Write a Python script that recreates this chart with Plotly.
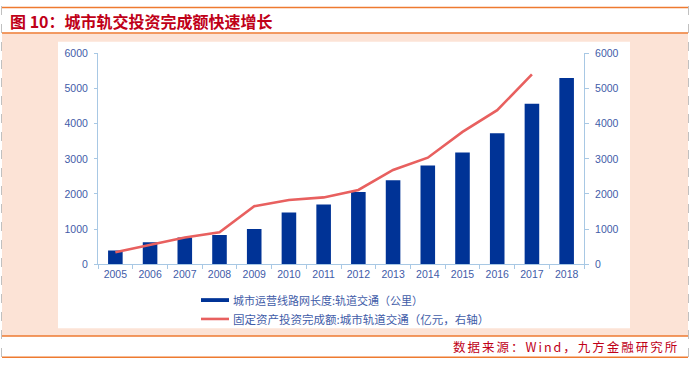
import plotly.graph_objects as go

W, H = 691, 368

years = ["2005", "2006", "2007", "2008", "2009", "2010", "2011", "2012",
         "2013", "2014", "2015", "2016", "2017", "2018"]
rail_length_km = [395, 625, 763, 836, 1002, 1470, 1700, 2059,
                  2390, 2812, 3180, 3731, 4568, 5303]
invest_years = ["2005", "2006", "2007", "2008", "2009", "2010", "2011", "2012",
                "2013", "2014", "2015", "2016", "2017"]
invest_100m_yuan = [340, 542, 763, 910, 1654, 1829, 1903, 2114,
                    2684, 3033, 3768, 4384, 5404]
y_ticks = [0, 1000, 2000, 3000, 4000, 5000, 6000]

bar_name = "城市运营线路网长度:轨道交通（公里）"
line_name = "固定资产投资完成额:城市轨道交通（亿元，右轴）"
title_text = "图 10：城市轨交投资完成额快速增长"
source_text = "数据来源：Wind，九方金融研究所"

BAR_C = "#003396"
LINE_C = "#e8605f"
TICK_C = "#3f5ca8"
AXIS_C = "#a8c8e4"
ORANGE = "#ee7a30"
PEACH = "#fce3d6"
RED = "#c00018"


def px(x):
    return x / W


def py(y):
    return 1 - y / H


fig = go.Figure()
fig.add_trace(go.Bar(x=years, y=rail_length_km, name=bar_name,
                     marker=dict(color=BAR_C, line=dict(width=0)),
                     width=0.42, yaxis="y", showlegend=False))
fig.add_trace(go.Scatter(x=invest_years, y=invest_100m_yuan, name=line_name,
                         mode="lines", line=dict(color=LINE_C, width=2.6),
                         yaxis="y2", showlegend=False))

shapes = [
    dict(type="rect", xref="paper", yref="paper", x0=px(2), x1=px(688),
         y0=py(341), y1=py(28.5), fillcolor=PEACH, line=dict(width=0), layer="below"),
    dict(type="rect", xref="paper", yref="paper", x0=px(58), x1=px(630),
         y0=py(333), y1=py(37), fillcolor="white", line=dict(width=0), layer="below"),
    dict(type="line", xref="paper", yref="paper", x0=px(2), x1=px(688),
         y0=py(1.5), y1=py(1.5), line=dict(color=ORANGE, width=1.5)),
    dict(type="line", xref="paper", yref="paper", x0=px(2), x1=px(688),
         y0=py(28), y1=py(28), line=dict(color=ORANGE, width=1.5)),
    dict(type="line", xref="paper", yref="paper", x0=px(2), x1=px(688),
         y0=py(341), y1=py(341), line=dict(color=ORANGE, width=1.5)),
    dict(type="line", xref="paper", yref="paper", x0=px(2), x1=px(688),
         y0=py(363), y1=py(363), line=dict(color=ORANGE, width=1.5)),
    dict(type="line", xref="paper", yref="paper", x0=px(1.5), x1=px(1.5),
         y0=py(0), y1=py(364), line=dict(color="#c0c0c0", width=1, dash="dash")),
    dict(type="line", xref="paper", yref="paper", x0=px(688.5), x1=px(688.5),
         y0=py(0), y1=py(364), line=dict(color="#c0c0c0", width=1, dash="dash")),
    dict(type="rect", xref="paper", yref="paper", x0=px(201), x1=px(229),
         y0=py(306), y1=py(302), fillcolor=BAR_C, line=dict(width=0)),
    dict(type="line", xref="paper", yref="paper", x0=px(201), x1=px(229),
         y0=py(323.5), y1=py(323.5), line=dict(color=LINE_C, width=2.6)),
]

annotations = [
    dict(text=title_text, xref="paper", yref="paper", x=px(8), y=py(15),
         xanchor="left", yanchor="middle", showarrow=False,
         font=dict(family="Noto Sans CJK SC", size=16, color=RED, weight="bold")),
    dict(text=source_text, xref="paper", yref="paper", x=px(565.5), y=py(352),
         xanchor="center", yanchor="middle", showarrow=False,
         font=dict(family="Noto Sans CJK SC", size=12.5, color=RED)),
    dict(text=bar_name, xref="paper", yref="paper", x=px(231), y=py(304),
         xanchor="left", yanchor="middle", showarrow=False,
         font=dict(family="Noto Sans CJK SC", size=11, color=TICK_C)),
    dict(text=line_name, xref="paper", yref="paper", x=px(231), y=py(323.5),
         xanchor="left", yanchor="middle", showarrow=False,
         font=dict(family="Noto Sans CJK SC", size=11.5, color=TICK_C)),
]

tickfont = dict(family="Liberation Sans, Arial", size=10.5, color=TICK_C)

fig.update_layout(
    width=W, height=H, autosize=False,
    margin=dict(l=0, r=0, t=0, b=0),
    paper_bgcolor="white", plot_bgcolor="rgba(0,0,0,0)",
    shapes=shapes, annotations=annotations,
    xaxis=dict(domain=[px(98), px(584)], type="category",
               showline=True, linecolor=AXIS_C, linewidth=1,
               ticks="outside", ticklen=4, tickcolor=AXIS_C,
               tickson="boundaries", tickfont=tickfont,
               showgrid=False, zeroline=False, fixedrange=True),
    yaxis=dict(domain=[py(267), py(49)], range=[0, 6000], tickvals=y_ticks,
               showline=True, linecolor=AXIS_C, linewidth=1,
               ticks="outside", ticklen=3, tickcolor=AXIS_C,
               tickfont=tickfont, showgrid=False, zeroline=False, ticklabelstandoff=4),
    yaxis2=dict(overlaying="y", side="right", anchor="x", range=[0, 6000], tickvals=y_ticks,
                showline=True, linecolor=AXIS_C, linewidth=1,
                ticks="outside", ticklen=4, tickcolor=AXIS_C,
                tickfont=tickfont, showgrid=False, zeroline=False, ticklabelstandoff=4),
)

post = (
    "document.documentElement.style.margin='0';"
    "document.body.style.margin='0';document.body.style.padding='0';"
    "document.documentElement.style.overflow='hidden';document.body.style.overflow='hidden';"
    "var gd=document.getElementById('{plot_id}');"
    "gd.style.position='absolute';gd.style.top='0px';gd.style.left='0px';"
    "gd.querySelectorAll('.annotation-text').forEach(function(t){"
    "if(t.textContent.indexOf('数据来源')===0){t.style.letterSpacing='2px';}});"
)
fig.write_html("out.html", config={"displayModeBar": False}, post_script=post)
